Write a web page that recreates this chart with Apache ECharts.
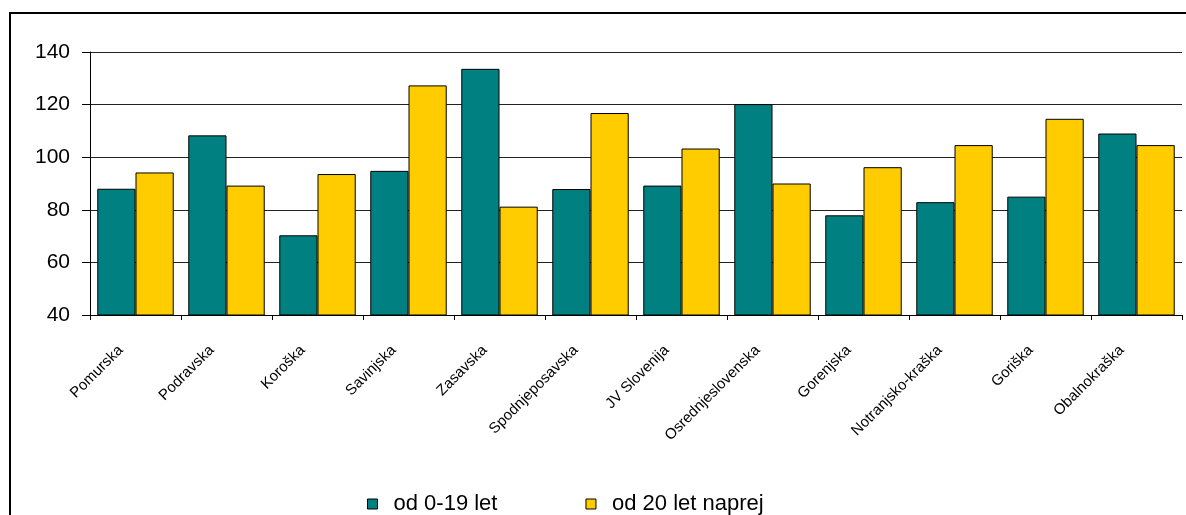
<!DOCTYPE html>
<html>
<head>
<meta charset="utf-8">
<style>
  html, body { margin: 0; padding: 0; background: #fff; }
  #chart { width: 1186px; height: 515px; }
</style>
<script src="https://cdn.jsdelivr.net/npm/echarts@6/dist/echarts.min.js"></script>
</head>
<body>
<div id="chart"></div>
<script>
// Regions of Slovenia
const regions = ['Pomurska', 'Podravska', 'Koroška', 'Savinjska', 'Zasavska', 'Spodnjeposavska',
  'JV Slovenija', 'Osrednjeslovenska', 'Gorenjska', 'Notranjsko-kraška', 'Goriška', 'Obalnokraška'];
const seriesNames = ['od 0-19 let', 'od 20 let naprej'];
const youngValues = [88.0, 108.3, 70.3, 94.8, 133.6, 87.9, 89.2, 120.2, 77.9, 82.9, 85.0, 109.0];
const adultValues = [94.2, 89.2, 93.6, 127.3, 81.2, 116.8, 103.3, 90.0, 96.2, 104.6, 114.6, 104.6];
const yTicks = [40, 60, 80, 100, 120, 140];

const FONT = 'Arial, "Liberation Sans", sans-serif';
const chart = echarts.init(document.getElementById('chart'), null, { renderer: 'canvas' });

chart.setOption({
  animation: false,
  backgroundColor: '#ffffff',
  // frame around the chart area
  graphic: [{
    type: 'rect',
    shape: { x: 10, y: 13, width: 1200, height: 600 },
    style: { fill: 'none', stroke: '#000', lineWidth: 2 },
    silent: true,
    z: 100
  }],
  grid: { left: 90, right: 4, top: 52, bottom: 200, containLabel: false },
  legend: {
    data: seriesNames,
    left: 362,
    top: 488,
    itemWidth: 10,
    itemHeight: 10,
    itemGap: 88,
    icon: 'rect',
    textStyle: { fontFamily: FONT, fontSize: 22, color: '#000', padding: [0, 0, 0, 11] },
    itemStyle: { borderColor: '#000', borderWidth: 1 }
  },
  xAxis: {
    type: 'category',
    data: regions,
    axisLine: { lineStyle: { color: '#000', width: 1 } },
    axisTick: { show: true, length: 5, lineStyle: { color: '#000' } },
    axisLabel: {
      rotate: 45,
      interval: 0,
      margin: 18,
      padding: [0, 21, 0, 0],
      fontFamily: FONT,
      fontSize: 15,
      color: '#000'
    }
  },
  yAxis: {
    type: 'value',
    min: yTicks[0],
    max: yTicks[yTicks.length - 1],
    interval: 20,
    axisLine: { show: true, lineStyle: { color: '#000', width: 1 } },
    axisTick: { show: true, inside: false, length: 8, lineStyle: { color: '#000' } },
    axisLabel: { margin: 20, fontFamily: FONT, fontSize: 21, color: '#000' },
    splitLine: { show: true, lineStyle: { color: '#222', width: 1 } }
  },
  series: [
    {
      name: seriesNames[0],
      type: 'bar',
      data: youngValues,
      barGap: '0%',
      barCategoryGap: '16%',
      itemStyle: { color: '#008080', borderColor: '#000', borderWidth: 1 }
    },
    {
      name: seriesNames[1],
      type: 'bar',
      data: adultValues,
      barGap: '0%',
      barCategoryGap: '16%',
      itemStyle: { color: '#FFCC00', borderColor: '#000', borderWidth: 1 }
    }
  ]
});
</script>
</body>
</html>
